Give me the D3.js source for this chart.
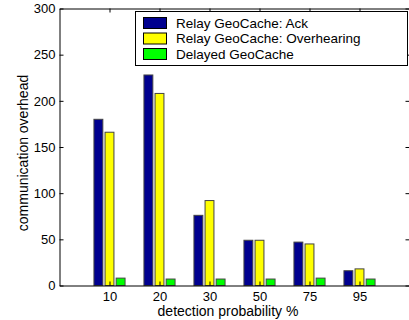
<!DOCTYPE html>
<html>
<head>
<meta charset="utf-8">
<script src="https://cdn.jsdelivr.net/npm/d3@7"></script>
<style>
  body { margin: 0; background: #fff; }
  text { font-family: "Liberation Sans", Arial, Helvetica, sans-serif; }
</style>
</head>
<body>
<div id="chart"></div>
<script>
// data
const categories = ['10', '20', '30', '50', '75', '95'];
const seriesNames = ['Relay GeoCache: Ack', 'Relay GeoCache: Overhearing', 'Delayed GeoCache'];
const ackValues = [180, 228, 76, 49, 47, 16];
const overhearingValues = [166, 208, 92, 49, 45, 18];
const delayedValues = [8, 7, 7, 7, 8, 7];
const yTicks = [0, 50, 100, 150, 200, 250, 300];

const colors = ['#00008f', '#ffff00', '#00ff00'];
const series = [ackValues, overhearingValues, delayedValues];

const width = 409;
const height = 320;
const plot = { left: 59.5, right: 409.5, top: 8.5, bottom: 285.5 };

const svg = d3.select('#chart')
  .append('svg')
  .attr('width', width)
  .attr('height', height);

// scales
const x = d3.scaleLinear()
  .domain([0, categories.length + 1])
  .range([plot.left, plot.right]);

const y = d3.scaleLinear()
  .domain([0, 300])
  .range([plot.bottom, plot.top]);

// matlab-style grouping: 3 bars in 2/3 of a unit
const groupWidth = 3 / 4.5;
const step = groupWidth / 3;
const barWidth = step * 0.8;

// bars
series.forEach((values, j) => {
  svg.append('g')
    .selectAll('rect')
    .data(values)
    .join('rect')
    .attr('x', (d, i) => x(i + 1 + (j - 1) * step - barWidth / 2))
    .attr('width', x(barWidth) - x(0))
    .attr('y', (d) => y(d))
    .attr('height', (d) => y(0) - y(d))
    .attr('fill', colors[j])
    .attr('stroke', '#444')
    .attr('stroke-width', 1);
});

// axes (ticks inside, matlab box)
const catTicks = categories.map((_, i) => i + 1);

svg.append('g')
  .attr('transform', `translate(0,${plot.bottom})`)
  .call(d3.axisBottom(x)
    .tickValues(catTicks)
    .tickFormat((d) => categories[d - 1])
    .tickSizeInner(-4)
    .tickSizeOuter(0)
    .tickPadding(6))
  .call((g) => g.selectAll('text').attr('font-size', 13).attr('font-family', null).attr('fill', '#000'));

svg.append('g')
  .attr('transform', `translate(0,${plot.top})`)
  .call(d3.axisTop(x)
    .tickValues(catTicks)
    .tickFormat('')
    .tickSizeInner(-4)
    .tickSizeOuter(0));

svg.append('g')
  .attr('transform', `translate(${plot.left},0)`)
  .call(d3.axisLeft(y)
    .tickValues(yTicks)
    .tickSizeInner(-4)
    .tickSizeOuter(0)
    .tickPadding(4))
  .call((g) => g.selectAll('text').attr('font-size', 13).attr('font-family', null).attr('fill', '#000'));

svg.append('g')
  .attr('transform', `translate(${plot.right},0)`)
  .call(d3.axisRight(y)
    .tickValues(yTicks)
    .tickFormat('')
    .tickSizeInner(-4)
    .tickSizeOuter(0));

svg.selectAll('.domain, .tick line').attr('stroke', '#000');

// axis titles
svg.append('text')
  .attr('x', 228)
  .attr('y', 315.5)
  .attr('text-anchor', 'middle')
  .attr('font-size', 14)
  .text('detection probability %');

svg.append('text')
  .attr('transform', 'translate(28,153) rotate(-90)')
  .attr('text-anchor', 'middle')
  .attr('font-size', 14)
  .text('communication overhead');

// legend
const legend = svg.append('g');

legend.append('rect')
  .attr('x', 135.5)
  .attr('y', 11.5)
  .attr('width', 272)
  .attr('height', 54)
  .attr('fill', '#fff')
  .attr('stroke', '#000');

const item = legend.selectAll('g')
  .data(seriesNames)
  .join('g')
  .attr('transform', (d, i) => `translate(0,${23 + i * 15.5})`);

item.append('rect')
  .attr('x', 143.5)
  .attr('y', -5.5)
  .attr('width', 23)
  .attr('height', 11)
  .attr('fill', (d, i) => colors[i])
  .attr('stroke', '#000');

item.append('text')
  .attr('x', 176)
  .attr('dy', '0.35em')
  .attr('font-size', 13.5)
  .text((d) => d);
</script>
</body>
</html>
